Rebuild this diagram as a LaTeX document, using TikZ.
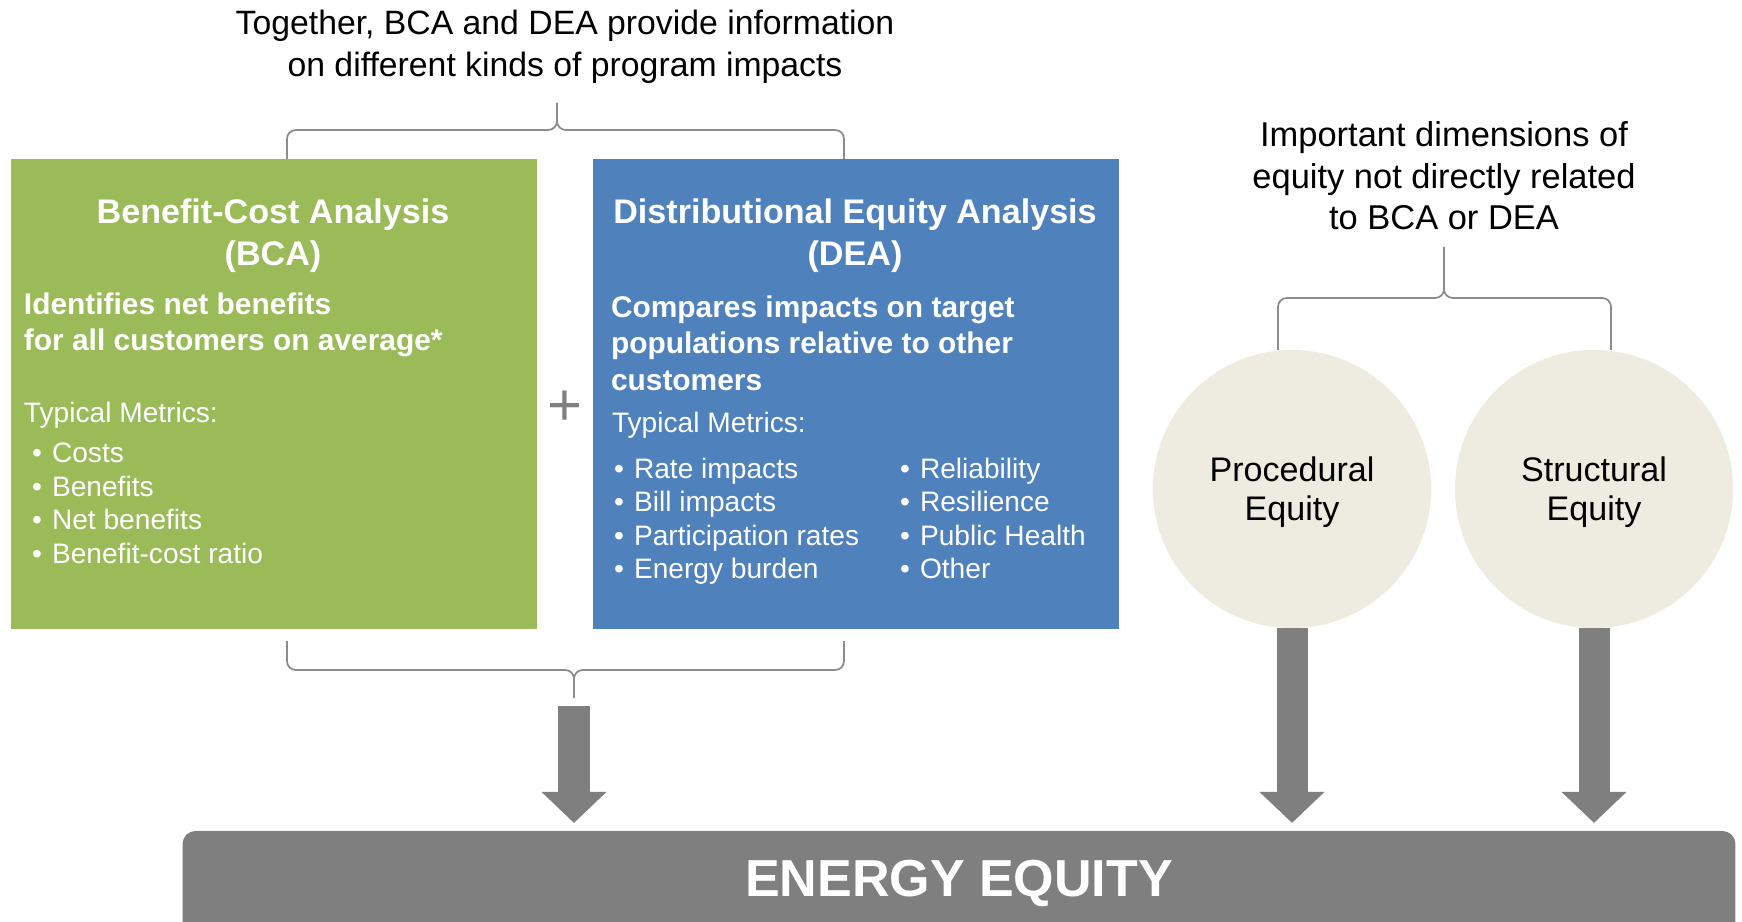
\documentclass[tikz,border=0pt]{standalone}
\usepackage{fontspec}
\setmainfont{Liberation Sans}
\usetikzlibrary{arrows.meta}
\definecolor{bcagreen}{HTML}{9BBB59}
\definecolor{deablue}{HTML}{4F81BD}
\definecolor{eqgrey}{HTML}{7F7F7F}
\definecolor{dimbeige}{HTML}{EEECE1}
\definecolor{bracegrey}{HTML}{8C8C8C}
\newcommand{\blt}{\makebox[0.2cm][l]{\textbullet}}
\tikzset{every node/.style={draw=none,inner sep=0pt,outer sep=0pt}}
\tikzset{
  box/.style={minimum width=5.26cm,minimum height=4.70cm},
  dim/.style={circle,fill=dimbeige,minimum size=2.78cm},
  dimtxt/.style={align=center,font=\fontsize{9.7}{11.1}\selectfont},
  brace/.style={draw=bracegrey,line width=0.5pt,rounded corners=2.5pt},
  bigarrow/.style={draw=eqgrey,line width=0.31cm,
    -{Triangle[length=0.31cm,width=0.63cm]},shorten >=0.08cm},
  headtxt/.style={align=center,font=\fontsize{9.6}{11.95}\selectfont},
  titletxt/.style={text=white,align=center,font=\bfseries\fontsize{9.7}{11.95}\selectfont},
  subtxt/.style={text=white,align=left,anchor=west,font=\bfseries\fontsize{8.5}{10.4}\selectfont},
  metrictxt/.style={text=white,anchor=base west,font=\fontsize{8}{9.5}\selectfont}
}

\begin{document}
\begin{tikzpicture}[x=0.01cm,y=-0.01cm]
\useasboundingbox (0,0) rectangle (1742,922);

\node[headtxt] (together) at (565,47) {Together, BCA and DEA provide information\\on different kinds of program impacts};

% the two analyses
\node[box,fill=bcagreen] (bca) at (274,394) {};
\node[box,fill=deablue] (dea) at (856,394) {};
\node[text=eqgrey,font=\fontsize{17}{17}\selectfont] (plus) at (565,408) {+};

\node[titletxt] (bcatitle) at (273,236) {Benefit-Cost Analysis\\(BCA)};
\node[titletxt] (deatitle) at (855,236) {Distributional Equity Analysis\\(DEA)};
\node[subtxt] (bcasub) at (24,325) {Identifies net benefits\\for all customers on average*};
\node[subtxt] (deasub) at (611,343) {Compares impacts on target\\populations relative to other\\customers};
\node[metrictxt] (bcamet) at (24,423) {Typical Metrics:};
\node[metrictxt] (deamet) at (612,433) {Typical Metrics:};

\foreach \t [count=\i] in {Costs,Benefits,Net benefits,Benefit-cost ratio}
  \node[metrictxt] (bcam\i) at (32,{429+33.6*\i}) {\blt\t};
\foreach \t [count=\i] in {Rate impacts,Bill impacts,Participation rates,Energy burden}
  \node[metrictxt] (deam\i) at (614,{445+33.5*\i}) {\blt\t};
\foreach \t [count=\i] in {Reliability,Resilience,Public Health,Other}
  \node[metrictxt] (deamm\i) at (900,{445+33.5*\i}) {\blt\t};

% other dimensions
\node[headtxt,font=\fontsize{9.8}{11.8}\selectfont] (dims) at (1444,176) {Important dimensions of\\equity not directly related\\to BCA or DEA};
\node[dim] (proc) at (1292,489) {};
\node[dim] (struct) at (1594,489) {};
\node[dimtxt] (proctxt) at (1292,492) {Procedural\\Equity};
\node[dimtxt] (structtxt) at (1594,492) {Structural\\Equity};

\node[fill=eqgrey,rounded corners=0.13cm,minimum width=15.52cm,minimum height=1.04cm,
  text=white,font=\bfseries\fontsize{14.8}{14.8}\selectfont] (energy) at (959,883) {ENERGY EQUITY};

% braces
\coordinate (toptip) at (557,103);
\coordinate (bottip) at (574,698);
\coordinate (dimtip) at (1444,247);
\draw[brace] ([xshift=0.13cm]bca.north) |- (toptip |- 0,130) -- (toptip);
\draw[brace] ([xshift=-0.12cm]dea.north) |- (toptip |- 0,130) -- (toptip);
\draw[brace] ([xshift=0.13cm,yshift=-0.12cm]bca.south) |- (bottip |- 0,670) -- (bottip);
\draw[brace] ([xshift=-0.12cm,yshift=-0.12cm]dea.south) |- (bottip |- 0,670) -- (bottip);
\draw[brace] ([xshift=-0.14cm]proc.north) |- (dimtip |- 0,298) -- (dimtip);
\draw[brace] ([xshift=0.17cm]struct.north) |- (dimtip |- 0,298) -- (dimtip);

\draw[bigarrow,shorten <=0.08cm] (bottip) -- (bottip |- energy.north);
\draw[bigarrow] (proc.south) -- (proc.south |- energy.north);
\draw[bigarrow] (struct.south) -- (struct.south |- energy.north);
\end{tikzpicture}
\end{document}
